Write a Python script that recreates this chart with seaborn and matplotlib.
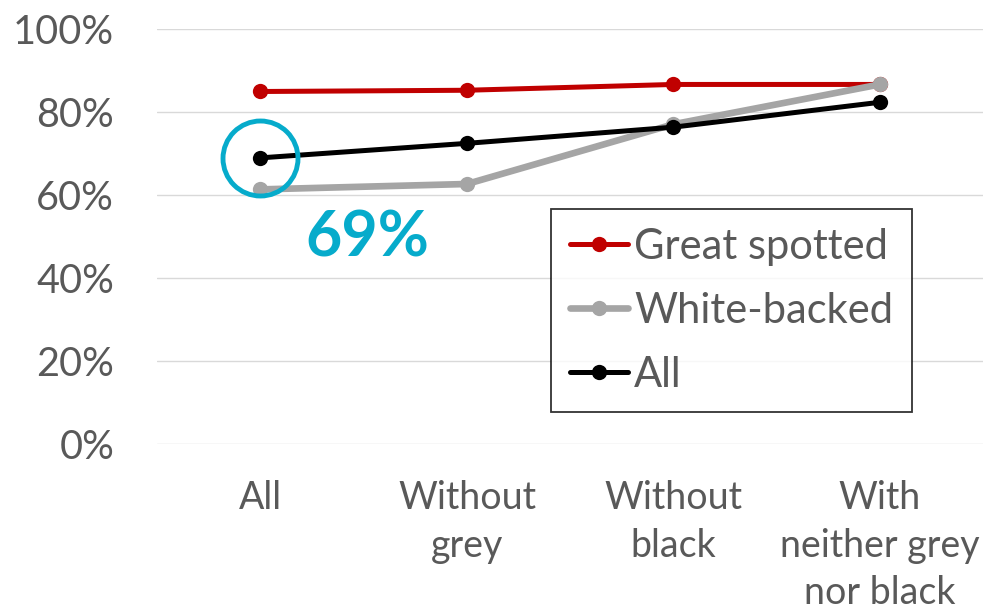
import matplotlib
matplotlib.use("Agg")
import matplotlib.pyplot as plt
import seaborn as sns
import pandas as pd

categories = ["All", "Without\ngrey", "Without\nblack", "With\nneither grey\nnor black"]
series_names = ["Great spotted", "White-backed", "All"]
great_spotted = [85, 85.3, 86.7, 86.7]
white_backed = [61.4, 62.7, 77.1, 86.7]
all_birds = [69, 72.5, 76.4, 82.4]
y_ticks = [0, 20, 40, 60, 80, 100]
y_tick_labels = ["0%", "20%", "40%", "60%", "80%", "100%"]

colors = {"Great spotted": "#C00000", "White-backed": "#A5A5A5", "All": "#000000"}
widths = {"Great spotted": 3.6, "White-backed": 4.8, "All": 3.6}

df = pd.DataFrame({
    "category": categories * 3,
    "value": great_spotted + white_backed + all_birds,
    "series": [s for s in series_names for _ in categories],
})

sns.set_theme(style="white")
plt.rcParams["font.family"] = ["Lato", "DejaVu Sans"]

fig = plt.figure(figsize=(9.83, 6.10), dpi=100)
ax = fig.add_axes([0.16, 0.272, 0.84, 0.68])

for name in series_names:
    sub = df[df["series"] == name]
    sns.lineplot(data=sub, x="category", y="value", color=colors[name],
                 linewidth=widths[name], marker="o", markersize=11,
                 markeredgewidth=0, sort=False, label=name, ax=ax)

ax.set_xlim(-0.5, 3.5)
ax.set_ylim(0, 100)
ax.set_yticks(y_ticks)
ax.set_yticklabels(y_tick_labels)
ax.set_xticks(range(len(categories)))
ax.set_xticklabels(categories, linespacing=1.4)
ax.set_xlabel("")
ax.set_ylabel("")
ax.grid(axis="y", color="#D9D9D9", linewidth=1.0)
ax.set_axisbelow(True)
for s in ax.spines.values():
    s.set_visible(False)
ax.tick_params(axis="y", labelsize=28.5, colors="#595959", length=0, pad=31)
ax.tick_params(axis="x", labelsize=27, colors="#595959", length=0, pad=26)

# highlight the overall value for all categories
highlight = all_birds[0]
ax.plot(0, highlight, marker="o", markersize=54, markerfacecolor="none",
        markeredgecolor="#06ABCB", markeredgewidth=3.5, zorder=5)
ax.annotate(f"{highlight:.0f}%", xy=(0, highlight), xytext=(77, -58),
            textcoords="offset points", ha="center", va="center",
            fontsize=45, fontweight="bold", color="#06ABCB")

leg = ax.legend(loc="upper right", bbox_to_anchor=(0.914, 0.566),
                borderaxespad=0, fontsize=30, frameon=True, fancybox=False,
                handlelength=1.4, handletextpad=0.15, labelspacing=0.62,
                borderpad=0.45)
leg.get_frame().set_edgecolor("black")
leg.get_frame().set_linewidth(1.3)
for t in leg.get_texts():
    t.set_color("#595959")

fig.savefig("out.png", dpi=100)
